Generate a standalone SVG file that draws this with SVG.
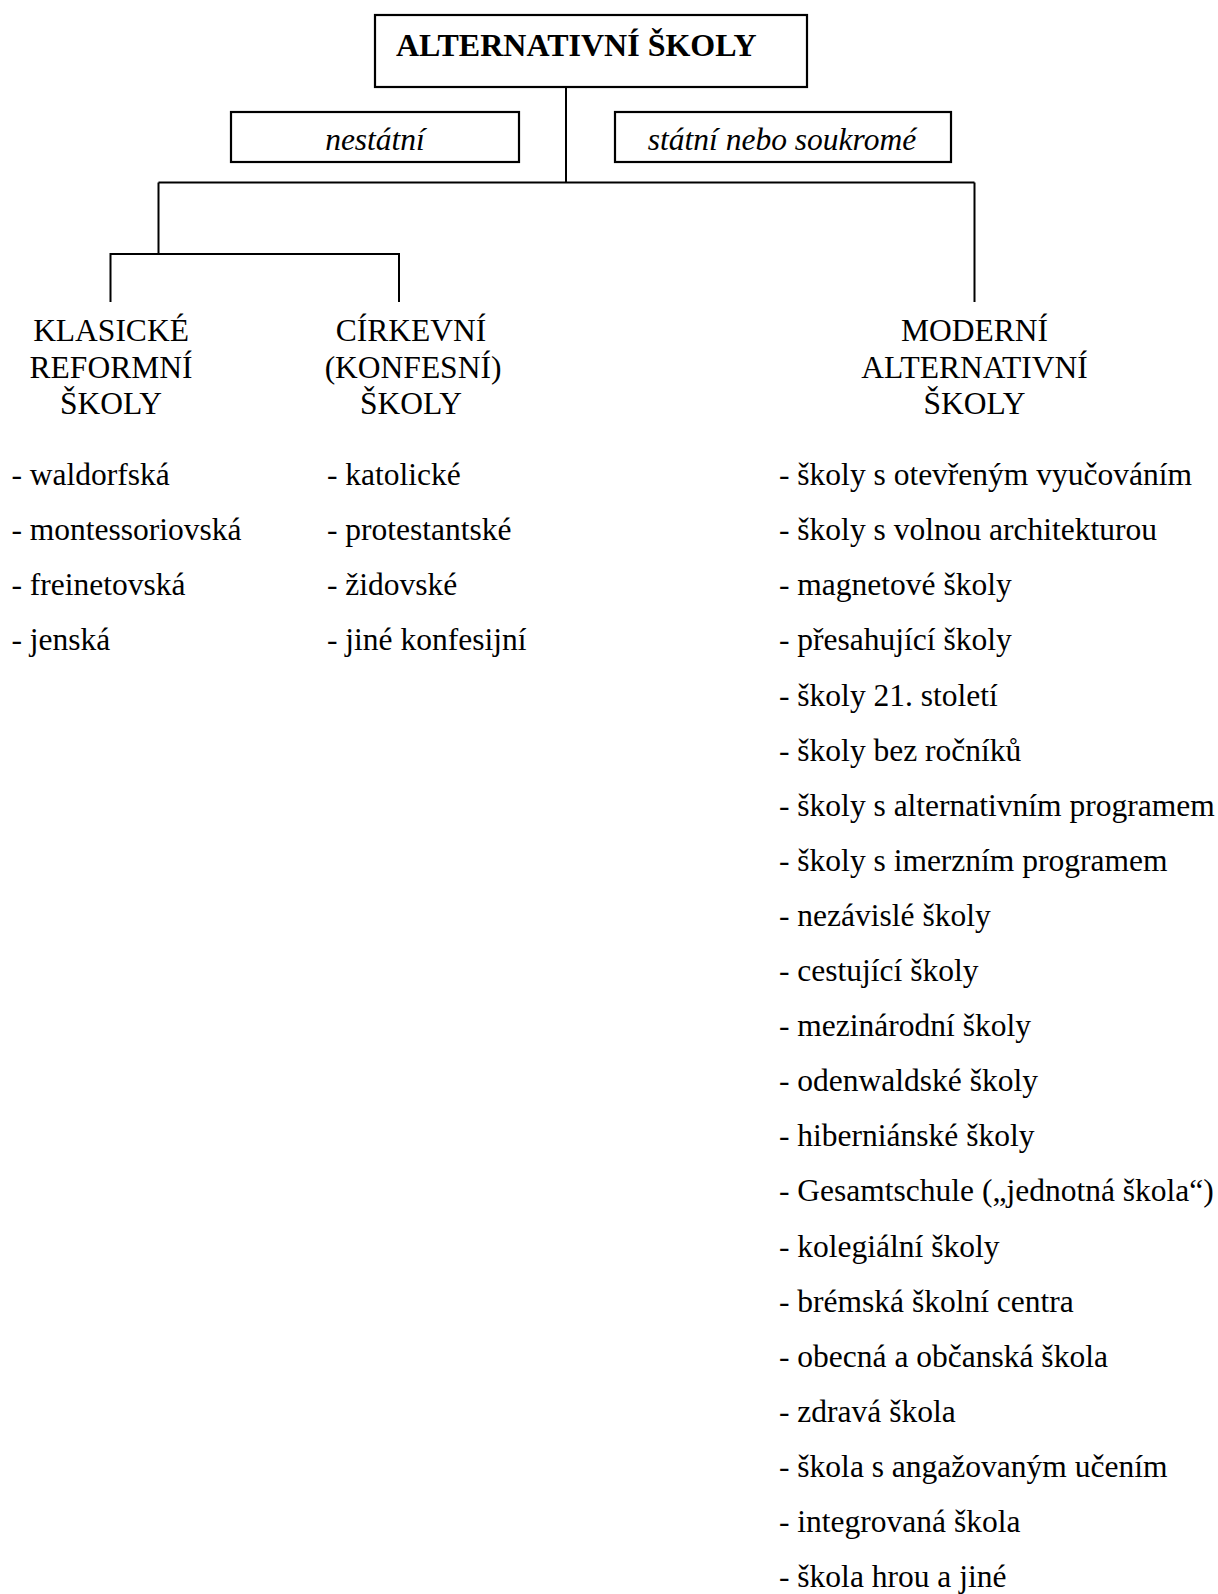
<svg xmlns="http://www.w3.org/2000/svg" width="1218" height="1594" viewBox="0 0 1218 1594">
<style>
text{font-family:"Liberation Serif","Times New Roman",serif;fill:#000;font-size:31.5px}
.title{font-weight:bold;font-size:32px}
.it{font-style:italic}
.c{text-anchor:middle}
.box{fill:#fff;stroke:#000;stroke-width:2.2}
.ln{fill:none;stroke:#000;stroke-width:2}
</style>
<rect width="1218" height="1594" fill="#fff"/>
<g id="connectors">
<path class="ln" d="M566 87V182.5"/>
<path class="ln" d="M158.5 182.5H974.5"/>
<path class="ln" d="M158.5 182.5V254"/>
<path class="ln" d="M110.5 302V254H399V302"/>
<path class="ln" d="M974.5 182.5V302"/>
</g>
<g id="root">
<rect class="box" x="375" y="15" width="432" height="72"/>
<text class="title" x="396" y="56">ALTERNATIVNÍ ŠKOLY</text>
</g>
<g id="nestatni">
<rect class="box" x="231" y="112" width="288" height="50"/>
<text class="it c" x="375" y="150">nestátní</text>
</g>
<g id="statni">
<rect class="box" x="615" y="112" width="336" height="50"/>
<text class="it c" x="782" y="150">státní nebo soukromé</text>
</g>
<g id="klasicke">
<text class="c" x="111" y="341">KLASICKÉ</text>
<text class="c" x="111" y="377.5">REFORMNÍ</text>
<text class="c" x="111" y="414">ŠKOLY</text>
<text x="11.5" y="485">- waldorfská</text>
<text x="11.5" y="540">- montessoriovská</text>
<text x="11.5" y="595">- freinetovská</text>
<text x="11.5" y="650">- jenská</text>
</g>
<g id="cirkevni">
<text class="c" x="411" y="341">CÍRKEVNÍ</text>
<text class="c" x="413" y="377.5">(KONFESNÍ)</text>
<text class="c" x="411" y="414">ŠKOLY</text>
<text x="327" y="485">- katolické</text>
<text x="327" y="540">- protestantské</text>
<text x="327" y="595">- židovské</text>
<text x="327" y="650">- jiné konfesijní</text>
</g>
<g id="moderni">
<text class="c" x="974.5" y="341">MODERNÍ</text>
<text class="c" x="974.5" y="377.5">ALTERNATIVNÍ</text>
<text class="c" x="974.5" y="414">ŠKOLY</text>
<text x="779" y="485">- školy s otevřeným vyučováním</text>
<text x="779" y="540">- školy s volnou architekturou</text>
<text x="779" y="595">- magnetové školy</text>
<text x="779" y="650">- přesahující školy</text>
<text x="779" y="705.5">- školy 21. století</text>
<text x="779" y="760.5">- školy bez ročníků</text>
<text x="779" y="815.5">- školy s alternativním programem</text>
<text x="779" y="870.5">- školy s imerzním programem</text>
<text x="779" y="926">- nezávislé školy</text>
<text x="779" y="981">- cestující školy</text>
<text x="779" y="1036">- mezinárodní školy</text>
<text x="779" y="1091">- odenwaldské školy</text>
<text x="779" y="1146">- hiberniánské školy</text>
<text x="779" y="1201">- Gesamtschule („jednotná škola“)</text>
<text x="779" y="1256.5">- kolegiální školy</text>
<text x="779" y="1311.5">- brémská školní centra</text>
<text x="779" y="1366.5">- obecná a občanská škola</text>
<text x="779" y="1421.5">- zdravá škola</text>
<text x="779" y="1477">- škola s angažovaným učením</text>
<text x="779" y="1532">- integrovaná škola</text>
<text x="779" y="1587">- škola hrou a jiné</text>
</g>
</svg>
